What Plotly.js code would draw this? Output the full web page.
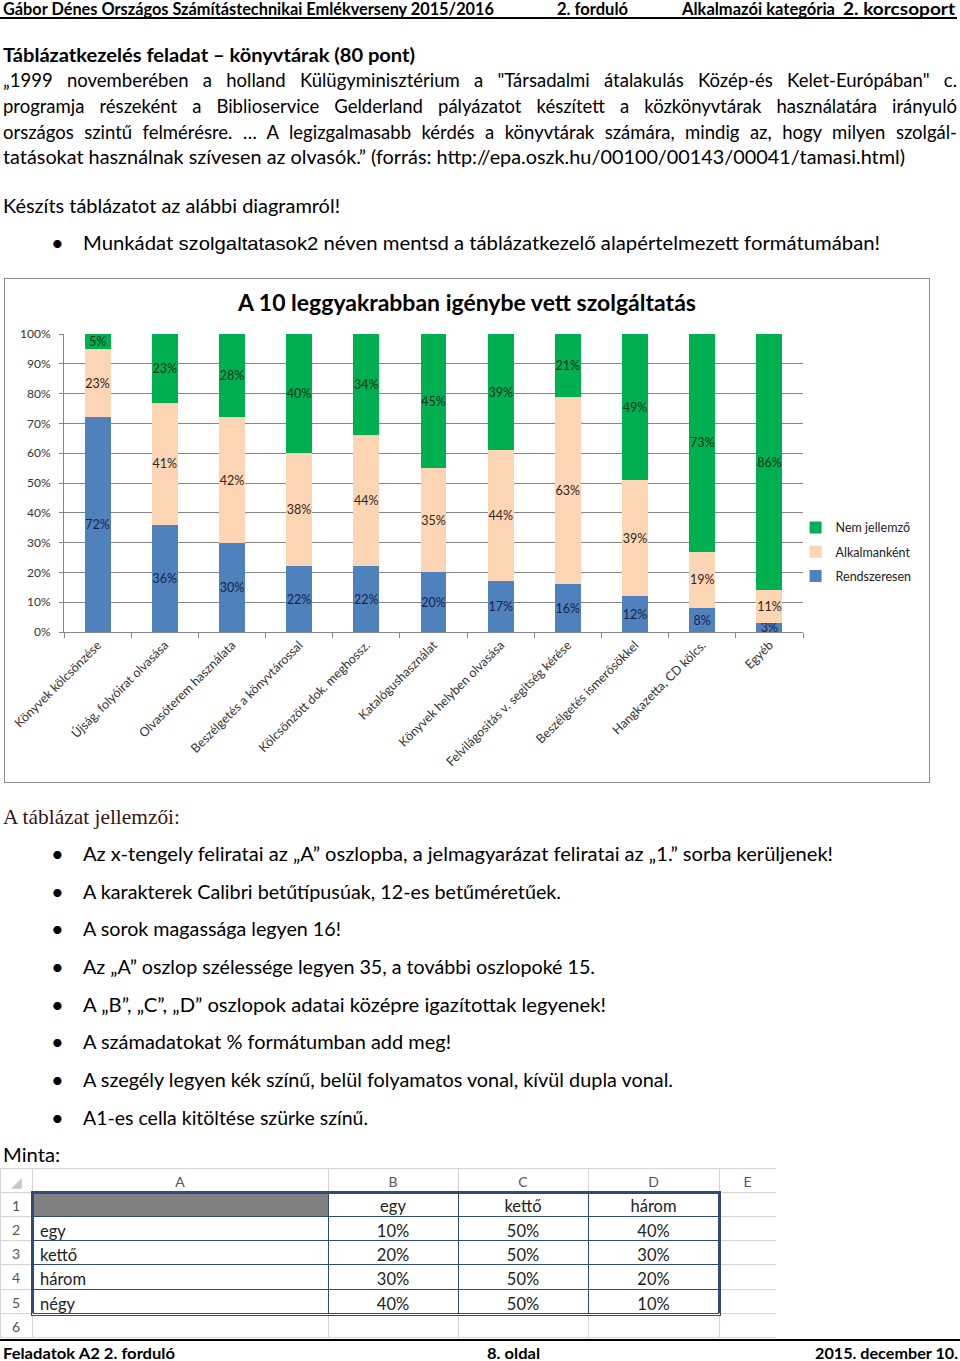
<!DOCTYPE html>
<html><head><meta charset="utf-8">
<script src="https://cdn.plot.ly/plotly-3.0.1.min.js"></script>
<style>
html,body{margin:0;padding:0;background:#fff;}
body{width:960px;height:1361px;position:relative;overflow:hidden;font-family:Lato,"Noto Sans",sans-serif;color:#000;}
.t{position:absolute;white-space:nowrap;line-height:24px;height:24px;transform-origin:0 50%;font-size:18.5px;}
.b{font-weight:bold;}
.f{line-height:15px;height:15px;top:1345px;font-size:16px;}
.dot{position:absolute;left:51px;font-size:22px;line-height:24px;height:24px;}
#chartBox{position:absolute;left:4px;top:278px;width:926px;height:505px;border:1px solid #8c8c8c;box-sizing:border-box;}
#sheet{position:absolute;left:0;top:1168px;width:776px;height:170px;}
#dbl{position:absolute;left:31px;top:1191px;width:690px;height:125px;border:3px double #2f4b7c;box-sizing:border-box;pointer-events:none;}
</style></head><body>

<div class="t b" style="left:3px;top:-3px;font-size:16.5px" data-w="491">Gábor Dénes Országos Számítástechnikai Emlékverseny 2015/2016</div>
<div class="t b" style="left:557px;top:-3px;font-size:16.5px" data-w="71">2. forduló</div>
<div class="t b" style="left:682px;top:-3px;font-size:16.5px" data-w="153">Alkalmazói kategória</div>
<div class="t b" style="left:843px;top:-3px;font-size:16.5px" data-w="112">2. korcsoport</div>
<div style="position:absolute;left:0;top:17px;width:957px;height:1.5px;background:#000"></div>

<div class="t b" style="left:3px;top:43px;font-size:19px" data-w="412">Táblázatkezelés feladat – könyvtárak (80 pont)</div>
<div class="t" style="left:3px;top:68px" data-w="954" data-j="1">„1999 novemberében a holland Külügyminisztérium a "Társadalmi átalakulás Közép-és Kelet-Európában" c.</div>
<div class="t" style="left:3px;top:94px" data-w="954" data-j="1">programja részeként a Biblioservice Gelderland pályázatot készített a közkönyvtárak használatára irányuló</div>
<div class="t" style="left:3px;top:120px" data-w="954" data-j="1">országos szintű felmérésre. … A legizgalmasabb kérdés a könyvtárak számára, mindig az, hogy milyen szolgál-</div>
<div class="t" style="left:3px;top:145px" data-w="902">tatásokat használnak szívesen az olvasók.” (forrás: http://epa.oszk.hu/00100/00143/00041/tamasi.html)</div>

<div class="t" style="left:3px;top:194px" data-w="337">Készíts táblázatot az alábbi diagramról!</div>
<div class="dot" style="top:231px">•</div>
<div class="t" style="left:83px;top:231px" data-w="797">Munkádat <span style="font-family:'Liberation Sans',Arial,sans-serif">szolgaltatasok2</span> néven mentsd a táblázatkezelő alapértelmezett formátumában!</div>

<div id="chartBox"><div id="chart"></div></div>

<div class="t" style="left:3px;top:805px;font-family:'Liberation Serif','DejaVu Serif',serif;font-size:21px;color:#3a1414" data-w="177">A táblázat jellemzői:</div>

<div class="dot" style="top:842px">•</div>
<div class="t" style="left:83px;top:842px" data-w="750">Az x-tengely feliratai az „A” oszlopba, a jelmagyarázat feliratai az „1.” sorba kerüljenek!</div>
<div class="dot" style="top:880px">•</div>
<div class="t" style="left:83px;top:880px" data-w="478">A karakterek Calibri betűtípusúak, 12-es betűméretűek.</div>
<div class="dot" style="top:917px">•</div>
<div class="t" style="left:83px;top:917px" data-w="258">A sorok magassága legyen 16!</div>
<div class="dot" style="top:955px">•</div>
<div class="t" style="left:83px;top:955px" data-w="512">Az „A” oszlop szélessége legyen 35, a további oszlopoké 15.</div>
<div class="dot" style="top:993px">•</div>
<div class="t" style="left:83px;top:993px" data-w="523">A „B”, „C”, „D” oszlopok adatai középre igazítottak legyenek!</div>
<div class="dot" style="top:1030px">•</div>
<div class="t" style="left:83px;top:1030px" data-w="368">A számadatokat % formátumban add meg!</div>
<div class="dot" style="top:1068px">•</div>
<div class="t" style="left:83px;top:1068px" data-w="590">A szegély legyen kék színű, belül folyamatos vonal, kívül dupla vonal.</div>
<div class="dot" style="top:1106px">•</div>
<div class="t" style="left:83px;top:1106px" data-w="285">A1-es cella kitöltése szürke színű.</div>

<div class="t" style="left:3px;top:1143px" data-w="57">Minta:</div>

<div id="sheet"></div>
<div id="dbl"></div>

<div style="position:absolute;left:0;top:1339px;width:960px;height:2px;background:#000"></div>
<div class="t b f" style="left:3px" data-w="172">Feladatok A2 2. forduló</div>
<div class="t b f" style="left:487px" data-w="53">8. oldal</div>
<div class="t b f" style="left:815px" data-w="143">2015. december 10.</div>

<script>
// ---- chart data ----
const categories = ['Könyvek kölcsönzése','Újság, folyóirat olvasása','Olvasóterem használata','Beszélgetés a könyvtárossal','Kölcsönzött dok. meghossz.','Katalógushasználat','Könyvek helyben olvasása','Felvilágosítás v. segítség kérése','Beszélgetés ismerősökkel','Hangkazetta, CD kölcs.','Egyéb'];
const rendszeresen = [72,36,30,22,22,20,17,16,12,8,3];
const alkalmankent = [23,41,42,38,44,35,44,63,39,19,11];
const nemJellemzo  = [5,23,28,40,34,45,39,21,49,73,86];
const seriesNames = ['Rendszeresen','Alkalmanként','Nem jellemző'];
const chartTitle = 'A 10 leggyakrabban igénybe vett szolgáltatás';

// ---- sample sheet data ----
const sheetColLetters = ['A','B','C','D','E'];
const sheetRowNumbers = ['1','2','3','4','5','6'];
const sampleRowLabels = ['egy','kettő','három','négy'];
const sampleColLabels = ['egy','kettő','három'];
const sampleEgy   = [10,20,30,40];
const sampleKetto = [50,50,50,50];
const sampleHarom = [40,30,20,10];

const FONT = 'Lato, "Noto Sans", sans-serif';

function barTrace(name, vals, color, textColor, rank){
  return {
    type:'bar', name:name, legendgroup:name, legendrank:rank,
    x:categories, y:vals.map(v=>v/100),
    text:vals.map(v=>v+'%'), textposition:'inside', insidetextanchor:'middle', textangle:0,
    textfont:{family:FONT, size:12.5, color:textColor},
    marker:{color:color, line:{width:0}},
    hoverinfo:'skip', cliponaxis:false
  };
}

const traces = [
  barTrace(seriesNames[0], rendszeresen, '#4f81bd', '#16234a', 3),
  barTrace(seriesNames[1], alkalmankent, '#fcd5b5', '#33241a', 2),
  barTrace(seriesNames[2], nemJellemzo, '#00b050', '#0a3318', 1)
];

const W = 924, H = 503;
const layout = {
  width:W, height:H,
  margin:{l:59, r:124, t:55, b:150, pad:0},
  paper_bgcolor:'#ffffff', plot_bgcolor:'#ffffff',
  title:{text:chartTitle, x:0.5, xanchor:'center', xref:'container', y:1-24/H, yanchor:'middle', yref:'container',
         font:{family:FONT, size:23, color:'#000', weight:'bold'}},
  barmode:'stack', bargap:0.614,
  uniformtext:{mode:'show', minsize:12.5},
  xaxis:{type:'category', tickangle:-45, ticks:'outside', tickson:'boundaries', ticklen:5, tickcolor:'#868686',
         showline:true, linecolor:'#868686', linewidth:1, showgrid:false, fixedrange:true,
         tickfont:{family:FONT, size:12.5, color:'#333'}},
  yaxis:{range:[0,1], dtick:0.1, tickformat:'.0%', ticks:'outside', ticklen:4, tickcolor:'#868686',
         showline:true, linecolor:'#868686', showgrid:true, gridcolor:'#868686', gridwidth:1, zeroline:false,
         fixedrange:true, ticklabelstandoff:6,
         tickfont:{family:FONT, size:12, color:'#333'}},
  legend:{x:0.99, xanchor:'left', y:0.40, yanchor:'top', traceorder:'grouped', tracegroupgap:5,
          font:{family:FONT, size:12.5, color:'#222'}, bgcolor:'rgba(0,0,0,0)'},
  showlegend:true, hovermode:false
};
Plotly.newPlot('chart', traces, layout, {displayModeBar:false, staticPlot:true});

// ---- sample spreadsheet ----
const SW = 776, SH = 170, HDR = 24, ROWH = 24.33;
const colW = [32, 296, 130, 130, 131, 57];
const blanks = sheetRowNumbers.map(()=>'');
const gridTrace = {
  type:'table',
  domain:{x:[0,1], y:[0,1]},
  columnwidth:colW,
  header:{values:['◢'].concat(sheetColLetters), align:'center', height:HDR,
          fill:{color:'#ffffff'}, line:{color:'#d4d4d4', width:1},
          font:{family:FONT, size:14, color:['#c8c8c8','#555','#555','#555','#555','#555']}},
  cells:{values:[sheetRowNumbers, blanks, blanks, blanks, blanks, blanks], align:'center', height:ROWH,
         fill:{color:'#ffffff'}, line:{color:'#d4d4d4', width:1},
         font:{family:FONT, size:14, color:'#555'}}
};
const x0 = colW[0]/SW, x1 = (colW[0]+colW[1]+colW[2]+colW[3]+colW[4])/SW;
const yTop = 1 - HDR/SH, yBot = 1 - (HDR + 5*ROWH)/SH;
const pct = v => v + '%';
const dataTrace = {
  type:'table',
  domain:{x:[x0,x1], y:[yBot,yTop]},
  columnwidth:colW.slice(1,5),
  header:{values:[''].concat(sampleColLabels), align:['left','center','center','center'], height:ROWH,
          fill:{color:['#808080','#ffffff','#ffffff','#ffffff']}, line:{color:'#2f4b7c', width:1},
          font:{family:FONT, size:16.5, color:'#222'}},
  cells:{values:[sampleRowLabels, sampleEgy.map(pct), sampleKetto.map(pct), sampleHarom.map(pct)],
         align:['left','center','center','center'], height:ROWH,
         fill:{color:'#ffffff'}, line:{color:'#2f4b7c', width:1},
         font:{family:FONT, size:16.5, color:'#222'}}
};
Plotly.newPlot('sheet', [gridTrace, dataTrace],
  {width:SW, height:SH, margin:{l:0,r:0,t:0,b:0}, paper_bgcolor:'rgba(0,0,0,0)'},
  {displayModeBar:false, staticPlot:true});

// ---- fit text widths to the page ----
function fit(){
  document.querySelectorAll('[data-w]').forEach(el=>{
    const target = +el.dataset.w;
    el.style.transform = 'none';
    el.style.width = 'auto';
    el.style.whiteSpace = 'nowrap';
    const nat = el.getBoundingClientRect().width;
    if (el.dataset.j) {
      let w = target;
      if (nat > target - 1) {
        const s = target/(nat+2);
        w = nat + 2;
        el.style.transform = 'scaleX(' + s + ')';
      }
      el.style.width = w + 'px';
      el.style.whiteSpace = 'normal';
      el.style.textAlign = 'justify';
      el.style.textAlignLast = 'justify';
    } else {
      el.style.transform = 'scaleX(' + (target/nat) + ')';
    }
  });
}
if (document.fonts && document.fonts.ready) { document.fonts.ready.then(fit); } else { fit(); }
fit();
</script>
</body></html>
